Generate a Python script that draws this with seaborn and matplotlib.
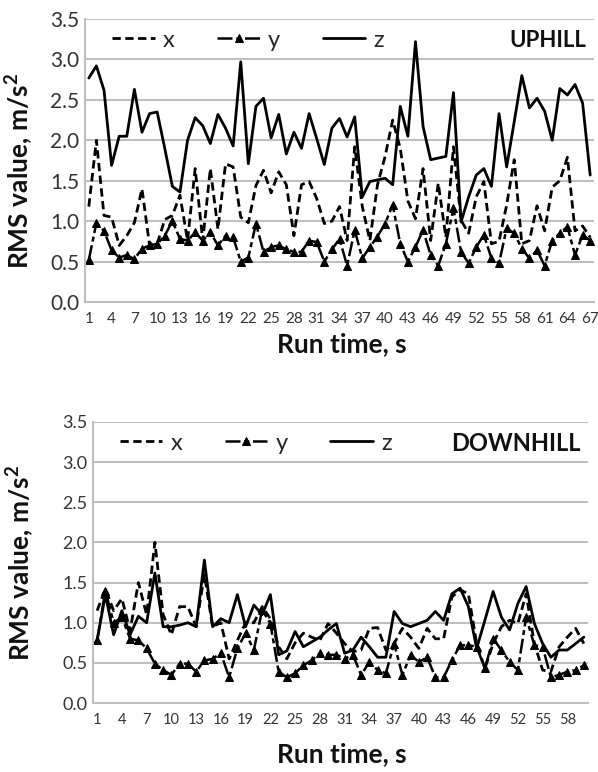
import numpy as np
import pandas as pd
import matplotlib
matplotlib.use("Agg")
import matplotlib.pyplot as plt
import seaborn as sns

# Uphill run (67 s)
up_x = [1.18, 2.00, 1.07, 1.05, 0.70, 0.82, 0.98, 1.40, 0.70, 0.72,
        1.02, 1.07, 1.32, 0.76, 1.65, 0.76, 1.65, 0.90, 1.71, 1.67,
        1.05, 0.98, 1.44, 1.63, 1.35, 1.61, 1.45, 0.82, 1.45, 1.49,
        1.28, 0.97, 1.00, 1.18, 0.76, 1.92, 1.18, 0.76, 1.45, 1.80,
        2.25, 1.90, 1.25, 1.03, 1.65, 0.76, 1.47, 0.80, 1.92, 1.01,
        0.85, 1.30, 1.49, 0.72, 0.75, 1.20, 1.76, 0.72, 0.76, 1.19,
        0.88, 1.42, 1.50, 1.79, 0.88, 0.94, 0.80]
up_y = [0.52, 0.98, 0.88, 0.64, 0.55, 0.58, 0.53, 0.66, 0.70, 0.72,
        0.82, 1.00, 0.78, 0.76, 0.86, 0.76, 0.86, 0.70, 0.82, 0.80,
        0.50, 0.55, 0.97, 0.62, 0.68, 0.70, 0.65, 0.62, 0.62, 0.76,
        0.74, 0.50, 0.65, 0.78, 0.45, 0.89, 0.54, 0.68, 0.81, 0.97,
        1.20, 0.72, 0.50, 0.68, 0.89, 0.58, 0.45, 0.72, 1.16, 0.62,
        0.48, 0.68, 0.83, 0.54, 0.48, 0.91, 0.85, 0.66, 0.54, 0.64,
        0.45, 0.76, 0.85, 0.93, 0.58, 0.83, 0.76]
up_z = [2.77, 2.92, 2.62, 1.69, 2.05, 2.05, 2.63, 2.10, 2.33, 2.35,
        1.90, 1.43, 1.36, 2.00, 2.28, 2.18, 1.96, 2.32, 2.15, 1.93,
        2.97, 1.71, 2.42, 2.52, 2.03, 2.32, 1.83, 2.10, 1.90, 2.33,
        2.02, 1.70, 2.15, 2.27, 2.04, 2.29, 1.30, 1.49, 1.51, 1.53,
        1.45, 2.42, 2.05, 3.22, 2.17, 1.76, 1.78, 1.80, 2.59, 0.99,
        1.30, 1.57, 1.65, 1.43, 2.33, 1.67, 2.23, 2.80, 2.40, 2.52,
        2.36, 2.00, 2.64, 2.56, 2.69, 2.46, 1.57]

# Downhill run (60 s)
down_x = [1.15, 1.42, 1.15, 1.30, 0.90, 1.50, 1.10, 2.00, 1.10, 0.85,
          1.20, 1.20, 0.95, 1.60, 0.95, 1.00, 0.55, 0.78, 1.00, 1.00,
          1.20, 1.05, 0.70, 0.55, 0.75, 0.87, 0.82, 0.78, 0.99, 0.87,
          0.74, 0.64, 0.66, 0.93, 0.94, 0.66, 0.74, 0.93, 0.82, 0.68,
          0.93, 0.80, 0.80, 1.32, 1.41, 1.36, 0.74, 0.43, 0.74, 0.95,
          1.03, 0.99, 1.36, 0.74, 0.41, 0.39, 0.70, 0.82, 0.93, 0.74]
down_y = [0.78, 1.40, 1.00, 1.07, 0.80, 0.78, 0.68, 0.49, 0.41, 0.35,
          0.49, 0.49, 0.39, 0.53, 0.55, 0.62, 0.32, 0.68, 0.87, 0.66,
          1.16, 0.99, 0.39, 0.32, 0.37, 0.47, 0.53, 0.62, 0.60, 0.60,
          0.55, 0.60, 0.35, 0.51, 0.41, 0.37, 0.74, 0.35, 0.60, 0.51,
          0.57, 0.32, 0.32, 0.53, 0.72, 0.72, 0.70, 0.43, 0.80, 0.66,
          0.51, 0.41, 1.07, 0.72, 0.70, 0.32, 0.35, 0.39, 0.41, 0.47]
down_z = [0.78, 1.35, 0.85, 1.15, 0.85, 1.08, 1.00, 1.62, 0.95, 0.95,
          0.97, 1.00, 0.95, 1.78, 0.95, 1.05, 1.00, 1.35, 0.95, 1.22,
          1.10, 1.35, 0.60, 0.65, 0.89, 0.70, 0.76, 0.82, 0.91, 0.99,
          0.62, 0.66, 0.82, 0.70, 0.57, 0.57, 1.14, 0.99, 0.95, 0.99,
          1.03, 1.14, 1.03, 1.36, 1.43, 1.20, 0.68, 1.03, 1.39, 1.07,
          0.91, 1.24, 1.45, 0.99, 0.74, 0.57, 0.66, 0.66, 0.74, 0.82]

y_ticks = [0.0, 0.5, 1.0, 1.5, 2.0, 2.5, 3.0, 3.5]

sns.set_theme(style="white")
plt.rcParams['font.family'] = ['Lato', 'DejaVu Sans']
plt.rcParams['mathtext.fontset'] = 'custom'
plt.rcParams['mathtext.rm'] = 'Lato'
plt.rcParams['mathtext.bf'] = 'Lato:bold'

GRID = '#bfbfbf'
TXT = '#333333'


def draw_panel(ax, xs, ys, zs, title, ytick_fs, xtick_fs, lab_fs, title_fs):
    t = np.arange(1, len(xs) + 1)
    df = pd.DataFrame({"t": t, "x": xs, "y": ys, "z": zs})

    sns.lineplot(data=df, x="t", y="x", ax=ax, color='black', lw=2.0,
                 linestyle=(0, (3, 1.6)), label='x')
    sns.lineplot(data=df, x="t", y="y", ax=ax, color='black', lw=1.8,
                 linestyle=(0, (6, 1.5, 2, 1.5)), marker='^', markersize=6,
                 markeredgecolor='black', label='y')
    sns.lineplot(data=df, x="t", y="z", ax=ax, color='black', lw=2.0,
                 label='z')

    ax.set_xlim(0.5, len(xs) + 0.5)
    ax.set_ylim(0, 3.5)
    ax.set_yticks(y_ticks)
    ax.set_yticklabels([f"{v:.1f}" for v in y_ticks], fontsize=ytick_fs, color=TXT)
    xt = list(range(1, len(xs) + 1, 3))
    ax.set_xticks(xt)
    ax.set_xticklabels([str(v) for v in xt], fontsize=xtick_fs, color=TXT)
    ax.tick_params(axis='y', length=0, pad=4)
    ax.tick_params(axis='x', length=0, pad=7)

    ax.yaxis.grid(True, color=GRID, lw=1.5)
    ax.xaxis.grid(False)
    ax.set_axisbelow(True)
    for s in ['top', 'right']:
        ax.spines[s].set_visible(False)
    for s in ['left', 'bottom']:
        ax.spines[s].set_color(GRID)
        ax.spines[s].set_linewidth(1.5)

    ax.set_ylabel(r'RMS value, m/s$^\mathbf{2}$', fontsize=lab_fs, fontweight='bold', color='#111111')
    ax.set_xlabel('Run time, s', fontsize=lab_fs, fontweight='bold', color='#111111')

    ax.legend(loc='center left', bbox_to_anchor=(0.035, 0.925), ncol=3, frameon=False,
              handlelength=1.8, columnspacing=1.8, handletextpad=0.35,
              fontsize=17, borderaxespad=0)
    ax.text(0.985, 0.925, title, transform=ax.transAxes, ha='right', va='center',
            fontsize=title_fs, fontweight='bold', color='#111111')


fig = plt.figure(figsize=(5.98, 7.72), dpi=100)
ax1 = fig.add_axes([85 / 598, 470 / 772, 509 / 598, 283 / 772])
ax2 = fig.add_axes([93 / 598, 69 / 772, 495 / 598, 281 / 772])

draw_panel(ax1, up_x, up_y, up_z, 'UPHILL', 15, 11, 19, 16)
draw_panel(ax2, down_x, down_y, down_z, 'DOWNHILL', 13, 10.5, 19, 17)

ax1.yaxis.set_label_coords(-0.098, 0.463)
ax1.xaxis.set_label_coords(0.505, -0.105)
ax2.yaxis.set_label_coords(-0.115, 0.5)
ax2.xaxis.set_label_coords(0.503, -0.14)

fig.savefig("out.png", dpi=100)
